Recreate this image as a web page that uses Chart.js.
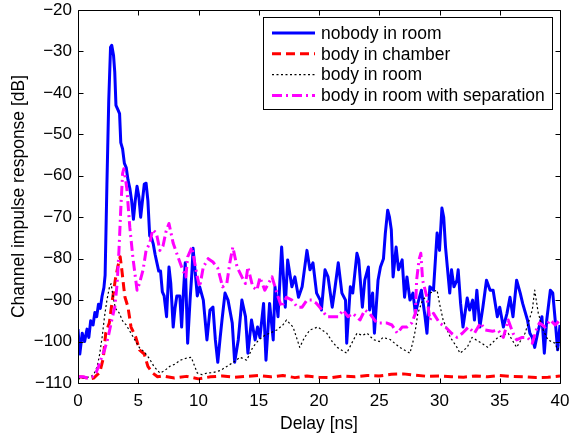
<!DOCTYPE html>
<html>
<head>
<meta charset="utf-8">
<style>
html, body { margin: 0; padding: 0; background: #fff; }
</style>
<script src="https://cdn.jsdelivr.net/npm/chart.js@4.4.1/dist/chart.umd.min.js"></script>
</head>
<body>
<canvas id="cir" width="571" height="437"></canvas>
<script>
// delay [ns] / level [dB]
var nobodyX = [0, 0.15, 0.35, 0.55, 0.75, 0.9, 1.05, 1.25, 1.4, 1.55, 1.7, 1.85, 2.0, 2.15, 2.25, 2.4, 2.55, 2.7, 2.8, 2.95,
    3.05, 3.15, 3.3, 3.45, 3.55, 3.7, 3.85, 4.0, 4.15, 4.3, 4.45, 4.6, 4.75, 4.9, 5.05, 5.2, 5.35, 5.5, 5.65, 5.8,
    5.95, 6.1, 6.25, 6.4, 6.55, 6.7, 6.85, 7.0, 7.15, 7.35, 7.55, 7.7, 7.9, 8.05, 8.2, 8.45, 8.6, 8.75, 8.9, 9.1,
    9.3, 9.45, 9.55, 9.75, 9.9, 10.1, 10.4, 10.7, 10.95, 11.2, 11.4, 11.6, 11.8, 11.95, 12.2, 12.45, 12.8, 13.0, 13.3, 13.6,
    13.9, 14.1, 14.4, 14.7, 14.9, 15.1, 15.4, 15.6, 15.9, 16.2, 16.35, 16.6, 16.9, 17.2, 17.4, 17.75, 18.0, 18.3, 18.6, 19.0,
    19.25, 19.5, 19.8, 20.1, 20.2, 20.5, 20.75, 21.1, 21.3, 21.6, 21.9, 22.2, 22.3, 22.6, 22.8, 23.15, 23.3, 23.6, 23.8, 24.1,
    24.2, 24.45, 24.6, 24.9, 25.1, 25.35, 25.5, 25.7, 25.85, 26.0, 26.15, 26.4, 26.6, 26.9, 27.1, 27.3, 27.55, 27.8, 28.0, 28.2,
    28.5, 28.8, 28.96, 29.2, 29.5, 29.8, 30.0, 30.2, 30.35, 30.5, 30.65, 30.85, 31.0, 31.2, 31.45, 31.55, 31.75, 31.95, 32.3, 32.5,
    32.75, 32.9, 33.1, 33.35, 33.6, 33.9, 34.2, 34.45, 34.8, 35.0, 35.3, 35.6, 35.85, 36.1, 36.4, 36.7, 36.9, 37.3, 37.5, 37.7,
    37.9, 38.2, 38.5, 38.7, 38.9, 39.2, 39.4, 39.6, 39.8, 40.0];
var nobodyY = [-97, -103, -98, -100, -97, -99, -95, -96, -93, -94, -91, -92, -89, -87, -84, -62, -42, -29, -28.5, -31,
    -35, -43, -44, -45, -52, -53.5, -57, -58, -61, -63, -66, -70.5, -66, -62.5, -65, -70, -66, -62, -61.8, -66,
    -74.5, -75, -76.5, -79, -81, -83, -83, -88, -89, -94, -82, -86, -96.5, -92, -89, -89, -96.5, -88, -81, -100.4,
    -90, -83.5, -77.5, -84, -89, -86.8, -90, -99.6, -92.4, -91.7, -99.6, -105, -99, -94.8, -88.3, -90, -95.5, -105, -99.6, -90,
    -94, -102.8, -94.8, -99.6, -96.5, -99, -90.8, -104.5, -90.8, -99.6, -86.8, -94, -77.2, -91.7, -80.3, -86.8, -84.4, -89.3, -86.8, -78,
    -82.7, -81, -88.3, -90, -92.4, -82.7, -84.4, -91.7, -87.6, -81, -88.3, -90, -100.4, -86.8, -88.3, -78.7, -80.3, -91.7, -85.2, -82,
    -92.4, -88.3, -98, -85.2, -82, -80, -74, -68.3, -70, -73, -84.4, -77.2, -82.7, -80.3, -89.3, -84.4, -90, -88.3, -93.2, -90.8,
    -87.6, -94, -98, -86.8, -87.6, -73.8, -78, -67.8, -70, -77.2, -82, -88.3, -82.7, -86.8, -85.2, -82.7, -90.8, -96.5, -89.5, -92.4,
    -90, -94.8, -87.6, -96.5, -91.7, -85.2, -87.6, -87.6, -94, -91.7, -96.5, -93.2, -89.3, -94, -85.2, -88.3, -90.8, -94.8, -98, -99,
    -101.4, -97.2, -94, -102.8, -94.8, -87.6, -88.3, -94.8, -102, -96];

var chamberX = [0, 0.5, 1.0, 1.3, 1.6, 1.8, 2.1, 2.3, 2.6, 2.85, 3.1, 3.3, 3.5, 3.65, 3.8, 3.9, 4.15, 4.4, 4.8, 5.1,
    5.5, 5.8, 6.2, 6.6, 7, 8, 9, 10, 11, 12, 13, 14, 15, 16, 17, 18, 19, 20, 21, 22,
    23, 24, 25, 26, 27, 28, 29, 30, 31, 32, 33, 34, 35, 36, 37, 38, 39, 40];
var chamberY = [-108.5, -108.6, -109, -108.8, -108, -107.5, -104, -98, -95.5, -90, -85, -82, -79.5, -83, -87, -89.3, -91.7, -96.5, -99, -102,
    -103, -106, -107.6, -108.5, -108.3, -108.8, -108.4, -109, -108.5, -108.3, -108.6, -108.4, -108.2, -108.5, -108.2, -108.7, -108.3, -108.6, -108.7, -108.3,
    -108.5, -108.2, -108.3, -107.9, -107.8, -108.1, -108.4, -108.3, -108.5, -108.6, -108.3, -108.5, -108.2, -108.4, -108.5, -108.7, -108.6, -108.3];

var roomX = [0, 0.5, 1.0, 1.3, 1.6, 1.8, 2.0, 2.2, 2.4, 2.6, 2.75, 2.9, 3.1, 3.4, 3.7, 4.0, 4.3, 4.7, 5.1, 5.5,
    5.9, 6.3, 6.8, 7.2, 7.6, 8.0, 8.5, 9.0, 9.4, 9.9, 10.3, 10.7, 11.2, 11.8, 12.35, 12.9, 13.45, 14.0, 14.5, 15.0,
    15.5, 15.9, 16.5, 17.0, 17.3, 17.85, 18.4, 18.8, 19.25, 19.9, 20.65, 21.1, 21.5, 22.3, 22.7, 23.15, 23.6, 24.0, 24.5, 25.0,
    25.3, 25.9, 26.7, 27.55, 27.8, 28.0, 28.2, 28.6, 29.2, 29.8, 30.0, 30.3, 30.9, 31.45, 31.7, 32.3, 32.7, 33.5, 34.0, 34.85,
    35.7, 36.4, 37.1, 37.7, 37.9, 38.2, 38.6, 39.0, 39.6, 39.8, 40];
var roomY = [-109, -108.8, -108.5, -108, -106, -103, -99, -94, -90, -87, -86, -89, -92, -93, -95, -96, -97.5, -99.5, -101.5, -102.5,
    -104, -106, -107.6, -107, -106, -105.5, -104.5, -104, -103.8, -107.6, -108, -107.6, -107.5, -107, -106, -105, -103.8, -104.5, -101.4, -99.6,
    -98.5, -98, -97.2, -96, -94.8, -96.5, -101.4, -99, -97.2, -96.5, -98, -100, -101.4, -102.8, -100.5, -98, -98.5, -98, -99.5, -100,
    -99, -99.5, -101.4, -102.8, -100, -97.2, -93.2, -90, -88.3, -87.6, -90.8, -94.8, -99, -101.4, -102.8, -101.4, -99, -100.4, -101.4, -99,
    -98, -101.4, -98, -92.4, -87.6, -93.2, -97.2, -99.6, -100.4, -102, -101];

var sepX = [0, 0.4, 0.8, 1.2, 1.5, 1.7, 2.0, 2.2, 2.5, 2.75, 3.05, 3.25, 3.4, 3.55, 3.7, 3.8, 3.95, 4.05, 4.3, 4.55,
    4.9, 5.1, 5.4, 5.65, 5.95, 6.2, 6.5, 6.8, 7.05, 7.3, 7.55, 7.9, 8.3, 8.6, 8.95, 9.1, 9.45, 9.9, 10.1, 10.4,
    10.8, 11.2, 11.6, 12.0, 12.35, 12.6, 12.85, 13.2, 13.6, 13.9, 14.1, 14.5, 14.85, 15.1, 15.5, 16.1, 16.5, 16.9, 17.3, 17.75,
    18.2, 18.6, 19.0, 19.4, 19.8, 20.25, 20.65, 21.1, 21.6, 22.0, 22.4, 22.8, 23.4, 23.8, 24.2, 24.8, 25.2, 25.6, 26.05, 26.5,
    26.9, 27.3, 27.7, 28.0, 28.1, 28.3, 28.45, 28.6, 28.96, 29.2, 29.5, 30.0, 30.5, 31.0, 31.45, 31.9, 32.4, 32.9, 33.4, 33.8,
    34.4, 34.85, 35.3, 35.7, 36.1, 36.4, 36.85, 37.3, 37.7, 38.1, 38.3, 38.75, 39.2, 39.6, 40];
var sepY = [-108.5, -108.5, -108.8, -108.5, -107.5, -106, -103.5, -102, -99, -95.5, -91.7, -86, -78, -68, -59.5, -58.3, -61, -63, -72.4, -79.6,
    -87.6, -86, -82.7, -78, -76.3, -73, -73.8, -78, -77, -73.5, -71.5, -76.3, -79.6, -82, -84.4, -79.6, -77.2, -84.4, -86.8, -82,
    -80, -80.8, -82.3, -86.8, -86, -81, -77.2, -82, -84.4, -86, -82, -86.8, -87.6, -84.5, -87.6, -84.4, -88.3, -91.7, -89.3, -90,
    -91.7, -91.7, -90, -90, -90.8, -92.4, -94, -94, -94, -92.4, -94, -93.2, -94.8, -92.4, -93.2, -95.5, -95.5, -95.5, -96, -98,
    -96.5, -96.5, -95.5, -93.2, -85.2, -80.3, -78.7, -85.2, -89.3, -94.8, -93.2, -95.5, -96.5, -98, -99, -98, -96.5, -98, -95.5, -97.2,
    -97.5, -97.2, -99, -94.8, -98, -99.6, -99, -99, -100.4, -96.5, -95.5, -96.5, -94.8, -96, -94.8];

var xTicks = [0, 5, 10, 15, 20, 25, 30, 35, 40];
var yTicks = [-110, -100, -90, -80, -70, -60, -50, -40, -30, -20];

var FONT = '"Liberation Sans", Arial, Helvetica, sans-serif';

function pts(xs, ys) {
    var out = [];
    for (var i = 0; i < xs.length; i++) {
        out.push({x: xs[i], y: ys[i]});
    }
    return out;
}

// matlab style box with inward ticks on all four sides
var frameTicks = {
    id: 'frameTicks',
    afterDatasetsDraw: function (chart) {
        var ctx = chart.ctx, a = chart.chartArea;
        var sx = chart.scales.x, sy = chart.scales.y, len = 5;
        var l = Math.round(a.left) + 0.5, r = Math.round(a.right) + 0.5;
        var t = Math.round(a.top) + 0.5, b = Math.round(a.bottom) + 0.5;
        ctx.save();
        ctx.strokeStyle = '#000';
        ctx.lineWidth = 1;
        ctx.setLineDash([]);
        ctx.beginPath();
        ctx.rect(l, t, r - l, b - t);
        xTicks.forEach(function (v) {
            var px = Math.round(sx.getPixelForValue(v)) + 0.5;
            ctx.moveTo(px, b); ctx.lineTo(px, b - len);
            ctx.moveTo(px, t); ctx.lineTo(px, t + len);
        });
        yTicks.forEach(function (v) {
            var py = Math.round(sy.getPixelForValue(v)) + 0.5;
            ctx.moveTo(l, py); ctx.lineTo(l + len, py);
            ctx.moveTo(r, py); ctx.lineTo(r - len, py);
        });
        ctx.stroke();
        ctx.restore();
    }
};

var legendBox = {
    id: 'legendBox',
    afterDraw: function (chart) {
        var ctx = chart.ctx;
        ctx.save();
        ctx.fillStyle = '#fff';
        ctx.fillRect(263, 17, 289, 92);
        ctx.strokeStyle = '#000';
        ctx.lineWidth = 1;
        ctx.strokeRect(263.5, 17.5, 289, 92);
        chart.data.datasets.forEach(function (ds, i) {
            var y = 33 + i * 20.8;
            ctx.beginPath();
            ctx.setLineDash(ds.borderDash || []);
            ctx.lineWidth = ds.borderWidth;
            ctx.strokeStyle = ds.borderColor;
            ctx.moveTo(272, y);
            ctx.lineTo(315, y);
            ctx.stroke();
            ctx.setLineDash([]);
            ctx.fillStyle = '#000';
            ctx.font = '17.5px ' + FONT;
            ctx.textBaseline = 'middle';
            ctx.fillText(ds.label, 321, y + 1);
        });
        ctx.restore();
    }
};

var ctx = document.getElementById('cir');
var cirChart = new Chart(ctx, {
    type: 'line',
    data: {
        datasets: [{
            label: 'nobody in room',
            data: pts(nobodyX, nobodyY),
            borderColor: '#0000ff',
            borderWidth: 3,
            order: 4
        }, {
            label: 'body in chamber',
            data: pts(chamberX, chamberY),
            borderColor: '#ff0000',
            borderWidth: 3,
            borderDash: [9, 5],
            order: 3
        }, {
            label: 'body in room',
            data: pts(roomX, roomY),
            borderColor: '#000000',
            borderWidth: 1.2,
            borderDash: [2, 2.5],
            order: 2
        }, {
            label: 'body in room with separation',
            data: pts(sepX, sepY),
            borderColor: '#ff00ff',
            borderWidth: 3,
            borderDash: [10, 4, 2, 4],
            order: 1
        }]
    },
    options: {
        responsive: false,
        devicePixelRatio: 1,
        animation: false,
        elements: {
            point: {radius: 0},
            line: {tension: 0, fill: false, borderJoinStyle: 'round'}
        },
        layout: {padding: {left: 0, right: 11, top: 10, bottom: 0}},
        plugins: {
            legend: {display: false},
            tooltip: {enabled: false}
        },
        scales: {
            x: {
                type: 'linear',
                min: 0,
                max: 40,
                grid: {display: false, drawTicks: false},
                border: {display: false},
                afterBuildTicks: function (s) {
                    s.ticks = xTicks.map(function (v) { return {value: v}; });
                },
                ticks: {
                    padding: 8,
                    color: '#000',
                    maxRotation: 0,
                    font: {family: FONT, size: 17}
                },
                title: {
                    display: true,
                    text: 'Delay [ns]',
                    color: '#000',
                    font: {family: FONT, size: 17.5},
                    padding: {top: 0, bottom: 2}
                },
                afterFit: function (s) {
                    s.height = 54;
                    s.paddingLeft = 0;
                    s.paddingRight = 0;
                }
            },
            y: {
                type: 'linear',
                min: -110,
                max: -20,
                grid: {display: false, drawTicks: false},
                border: {display: false},
                afterBuildTicks: function (s) {
                    s.ticks = yTicks.map(function (v) { return {value: v}; });
                },
                ticks: {
                    padding: 6,
                    color: '#000',
                    font: {family: FONT, size: 17},
                    callback: function (v) { return String(v).replace('-', '\u2212'); }
                },
                title: {
                    display: true,
                    text: 'Channel impulse response [dB]',
                    color: '#000',
                    font: {family: FONT, size: 17.5},
                    padding: {top: 9, bottom: 0}
                },
                afterFit: function (s) {
                    s.width = 78;
                    s.paddingTop = 0;
                    s.paddingBottom = 0;
                }
            }
        }
    },
    plugins: [frameTicks, legendBox]
});
</script>
</body>
</html>
